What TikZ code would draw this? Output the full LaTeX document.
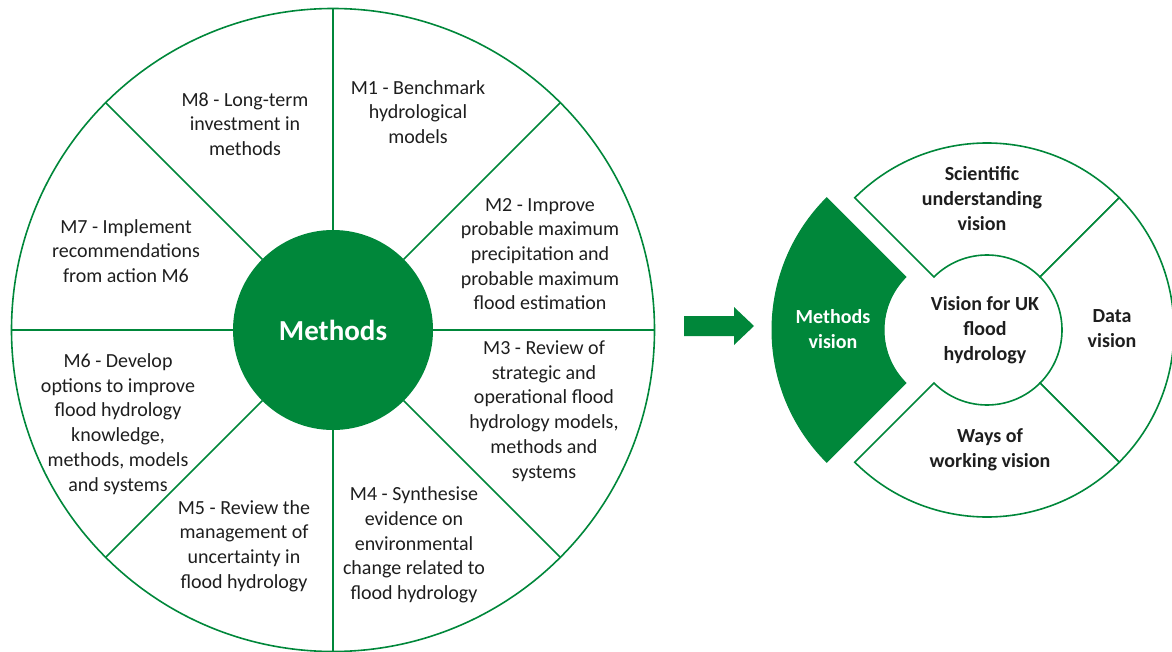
\documentclass[tikz,border=0pt]{standalone}
\usepackage{fontspec}
\setmainfont{Carlito}
\usetikzlibrary{calc}
\definecolor{mgreen}{RGB}{0,135,58}
\definecolor{txt}{RGB}{30,30,30}
\begin{document}
\begin{tikzpicture}[x=1pt,y=1pt,
  lbl/.style={align=center, text=txt, font=\fontsize{20}{24.7}\selectfont, inner sep=0pt},
  vlbl/.style={align=center, text=txt, font=\fontsize{20}{25}\selectfont\bfseries, inner sep=0pt},
  spoke/.style={draw=mgreen, line width=1.6pt},
  seg/.style={draw=mgreen, line width=1.6pt, fill=white, line join=miter},
  msegstyle/.style={fill=mgreen, draw=mgreen, line width=1pt},
]
\useasboundingbox (0,0) rectangle (1172,-652);
% ---------- left wheel ----------
\node[circle, draw=mgreen, line width=1.6pt, minimum size=643pt, inner sep=0pt, outer sep=0pt] (ring) at (333,-330) {};
\node[circle, fill=mgreen, minimum size=200pt, inner sep=0pt, outer sep=0pt, text=white,
      font=\fontsize{29}{34}\selectfont\bfseries] (core) at (333,-330) {Methods};
\foreach \a in {0,45,...,315} \draw[spoke] (core.\a) -- (ring.\a);

\node[lbl] (m1) at (418,-112) {M1 - Benchmark\\hydrological\\models};
\node[lbl] (m2) at (540,-254) {M2 - Improve\\probable maximum\\precipitation and\\probable maximum\\flood estimation};
\node[lbl] (m3) at (544,-411) {M3 - Review of\\strategic and\\operational flood\\hydrology models,\\methods and\\systems};
\node[lbl] (m4) at (414,-545) {M4 - Synthesise\\evidence on\\environmental\\change related to\\flood hydrology};
\node[lbl] (m5) at (244,-546) {M5 - Review the\\management of\\uncertainty in\\flood hydrology};
\node[lbl] (m6) at (118,-424) {M6 - Develop\\options to improve\\flood hydrology\\knowledge,\\methods, models\\and systems};
\node[lbl] (m7) at (126,-251) {M7 - Implement\\recommendations\\from action M6};
\node[lbl] (m8) at (245,-124) {M8 - Long-term\\investment in\\methods};

% ---------- block arrow ----------
\fill[mgreen] (684,-316) -- (734,-316) -- (734,-307) -- (754,-326) -- (734,-345) -- (734,-336) -- (684,-336) -- cycle;

% ---------- right wheel ----------
\coordinate (C) at (987,-330);
\coordinate (Cm) at (959,-330);
\draw[seg] ($(C)+(45:187pt)$) arc[start angle=45, end angle=135, radius=187pt]
   -- ($(C)+(135:75pt)$) arc[start angle=135, end angle=45, radius=75pt] -- cycle;
\draw[seg] ($(C)+(-45:187pt)$) arc[start angle=-45, end angle=45, radius=187pt]
   -- ($(C)+(45:75pt)$) arc[start angle=45, end angle=-45, radius=75pt] -- cycle;
\draw[seg] ($(C)+(225:187pt)$) arc[start angle=225, end angle=315, radius=187pt]
   -- ($(C)+(315:75pt)$) arc[start angle=315, end angle=225, radius=75pt] -- cycle;
\draw[msegstyle] ($(Cm)+(135:187pt)$) arc[start angle=135, end angle=225, radius=187pt]
   -- ($(Cm)+(225:75pt)$) arc[start angle=225, end angle=135, radius=75pt] -- cycle;

\node[vlbl] (sci) at (982,-199) {Scientific\\understanding\\vision};
\node[vlbl] (hub) at (985,-330) {Vision for UK\\flood\\hydrology};
\node[vlbl] (data) at (1112,-329) {Data\\vision};
\node[vlbl] (ways) at (990,-450) {Ways of\\working vision};
\node[vlbl, text=white] (mv) at (833,-329) {Methods\\vision};
\end{tikzpicture}
\end{document}
